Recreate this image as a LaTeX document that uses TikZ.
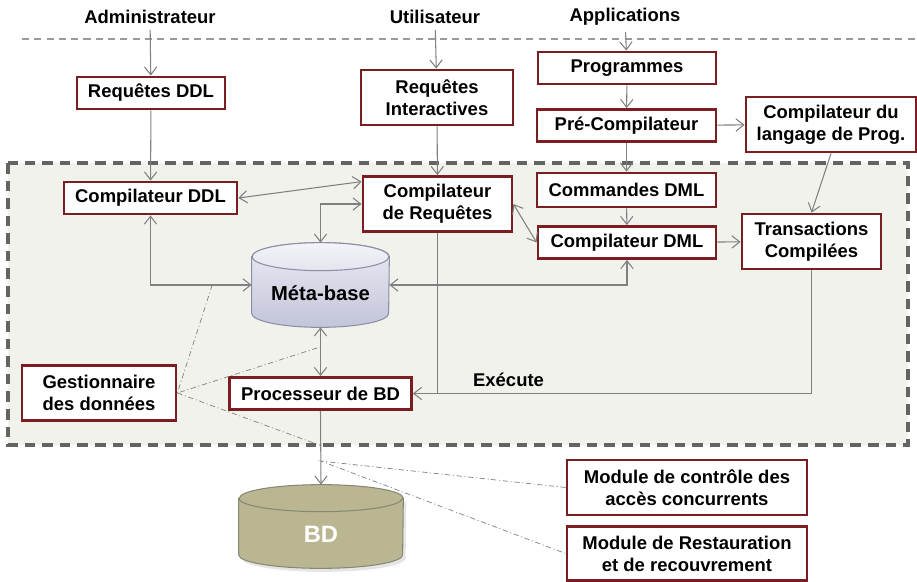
\documentclass[tikz,border=0pt]{standalone}
\usepackage{fontspec}
\setmainfont{Liberation Sans}       % Arial
\usepackage{tikz}
\usetikzlibrary{calc,               % Calculs de coordonnées entre $ $
           positioning,
           arrows.meta}             % pointes de flèches
\pgfdeclarelayer{background}
\pgfsetlayers{background,main}
\definecolor{bordeaux}{RGB}{122,30,34}
\definecolor{trait}{RGB}{128,128,128}
\definecolor{zone}{RGB}{242,242,237}
\definecolor{zonebord}{RGB}{100,100,100}
\definecolor{metahaut}{RGB}{236,236,245}
\definecolor{metabas}{RGB}{194,196,216}
\definecolor{metatrait}{RGB}{140,142,165}
\definecolor{bdfond}{RGB}{185,182,145}
\definecolor{bdtrait}{RGB}{135,135,120}
\tikzset{
  texte/.style={font=\fontsize{10.5}{12.5}\selectfont\bfseries},
  acteur/.style={texte},
  boite/.style={texte, draw=bordeaux, line width=1.6pt, fill=white,
                align=center, inner sep=2pt, minimum height=0.64cm},
  boite2/.style={boite, minimum height=1.10cm},
  lien/.style={draw=trait, line width=0.6pt},
  pointille/.style={draw=trait, line width=0.4pt,
                    dash pattern=on 3pt off 1.5pt on 0.6pt off 1.5pt},
  cylindre/.style={font=\fontsize{11.5}{13}\selectfont\bfseries, inner sep=0pt,
                   text depth=0pt}
}
\begin{document}
\begin{tikzpicture}[x=0.02cm, y=-0.02cm, >={Straight Barb[length=4.5pt,width=7pt]}]
    \useasboundingbox (0,0) rectangle (917,582);
    % acteurs
    \node[acteur] (adm) at (150,17) {Administrateur};
    \node[acteur] (usr) at (435,17) {Utilisateur};
    \node[acteur] (app) at (625,17) {Applications};
    \draw[trait!80, line width=0.6pt, dash pattern=on 4pt off 3pt] (22,39) -- (917,39);
    % hors du SGBD
    \node[boite, minimum width=2.96cm] (reqddl) at (151,93) {Requêtes DDL};
    \node[boite2, minimum width=3.04cm] (reqint) at (437,97.5) {Requêtes\\Interactives};
    \node[boite, minimum width=3.56cm] (prog) at (627,68) {Programmes};
    \node[boite, minimum width=3.58cm] (precomp) at (626.5,125.5) {Pré-Compilateur};
    \node[boite2, minimum width=3.40cm] (complang) at (831,124.5) {Compilateur du\\langage de Prog.};
    % SGBD
    \node[boite, minimum width=3.46cm] (compddl) at (150.5,198) {Compilateur DDL};
    \node[boite2, minimum width=2.98cm] (compreq) at (437.5,204) {Compilateur\\de Requêtes};
    \node[boite, minimum width=3.58cm, minimum height=0.68cm] (cmddml) at (626.5,190) {Commandes DML};
    \node[boite, minimum width=3.56cm] (compdml) at (627,242.5) {Compilateur DML};
    \node[boite2, minimum width=2.78cm] (trans) at (811.5,241.5) {Transactions\\Compilées};
    \node[cylindre, minimum width=2.74cm, minimum height=1.68cm, text height=0.6cm] (meta) at (320.5,285) {Méta-base};
    \node[boite2, minimum width=3.08cm] (gest) at (99,393) {Gestionnaire\\des données};
    \node[boite, minimum width=3.64cm] (proc) at (320.5,393.5) {Processeur de BD};
    % données et modules
    \node[cylindre, font=\fontsize{13.5}{15}\selectfont\bfseries, text=white,
          minimum width=3.28cm, minimum height=1.66cm, text height=0.62cm] (bd) at (321,526.5) {BD};
    \node[boite2, minimum width=4.80cm] (modctl) at (687,487.5) {Module de contrôle des\\accès concurrents};
    \node[boite2, minimum width=4.80cm, minimum height=1.08cm] (modrest) at (687,553.5) {Module de Restauration\\et de recouvrement};

    \begin{pgfonlayer}{background}
        \draw[fill=zone, draw=zonebord, line width=1.8pt, dash pattern=on 6pt off 4pt] (8,163) rectangle (908,445);
        % Méta-base
        \path[draw=metatrait, line width=0.6pt, top color=metahaut, bottom color=metabas]
            ([yshift=-0.28cm]meta.north west) -- ([yshift=0.28cm]meta.south west)
            arc[start angle=180, end angle=360, x radius=1.37cm, y radius=0.28cm]
            -- ([yshift=-0.28cm]meta.north east)
            arc[start angle=0, end angle=180, x radius=1.37cm, y radius=0.28cm] -- cycle;
        \draw[metatrait, line width=0.6pt, top color=metahaut!60!white, bottom color=metahaut!80!metabas]
            ([yshift=-0.28cm]meta.north) ellipse[x radius=1.37cm, y radius=0.28cm];
        % BD
        \fill[black!20, opacity=0.5] ([shift={(0.06cm,-0.34cm)}]bd.north west) -- ([shift={(0.06cm,0.2cm)}]bd.south west)
            arc[start angle=180, end angle=360, x radius=1.64cm, y radius=0.27cm]
            -- ([shift={(0.06cm,-0.34cm)}]bd.north east) -- cycle;
        \path[draw=bdtrait, line width=0.6pt, fill=bdfond]
            ([yshift=-0.27cm]bd.north west) -- ([yshift=0.27cm]bd.south west)
            arc[start angle=180, end angle=360, x radius=1.64cm, y radius=0.27cm]
            -- ([yshift=-0.27cm]bd.north east)
            arc[start angle=0, end angle=180, x radius=1.64cm, y radius=0.27cm] -- cycle;
        \draw[bdtrait, line width=0.6pt] ([yshift=-0.27cm]bd.north west)
            arc[start angle=180, end angle=360, x radius=1.64cm, y radius=0.27cm];
    \end{pgfonlayer}

    % flux
    \draw[lien,->] (adm) -- (reqddl);
    \draw[lien,->] (usr) -- (reqint);
    \draw[lien,->] (app) -- (prog);
    \draw[lien,->] (reqddl) -- (compddl);
    \draw[lien,->] (reqint) -- (compreq);
    \draw[lien,->] (prog) -- (precomp);
    \draw[lien,->] (precomp) -- (cmddml);
    \draw[lien,->] (cmddml) -- (compdml);
    \draw[lien,->] (precomp) -- (complang);
    \draw[lien,->] (complang.south) -- (trans.north);
    \draw[lien,->] (compdml) -- (trans);
    \draw[lien,<->] (compddl.east) -- ([yshift=-0.13cm]compreq.north west);
    \draw[lien,<->] (compreq.east) -- (compdml.west);
    \draw[lien,<->] (compreq.west) -| (meta.north);
    \draw[lien,<->] (compddl.south) |- (meta.west);
    \draw[lien,<->] (meta.east) -| (compdml.south);
    \draw[lien,<->] (meta.south) -- (proc.north);
    \draw[lien] (compreq.south) -- (compreq.south |- proc.east);
    \draw[lien,->] (trans.south) |- node[texte, pos=0.88, above] (exec) {Exécute} (proc.east);
    \draw[lien,->] (proc.south) -- (bd.north);

    % rôles du gestionnaire
    \coordinate (g1) at ($(compddl.south |- meta.west)!0.61!(meta.west)$);
    \coordinate (g2) at ($(meta.south)!0.4!(proc.north)$);
    \coordinate (g3) at ($(proc.south)!0.47!(bd.north)$);
    \coordinate (m1) at ($(proc.south)!0.68!(bd.north)$);
    \draw[pointille] (g1) -- (gest.east) -- (g2);
    \draw[pointille] (gest.east) -- (g3);
    \draw[pointille] (modctl.west) -- (m1) -- (modrest.west);
\end{tikzpicture}
\end{document}
